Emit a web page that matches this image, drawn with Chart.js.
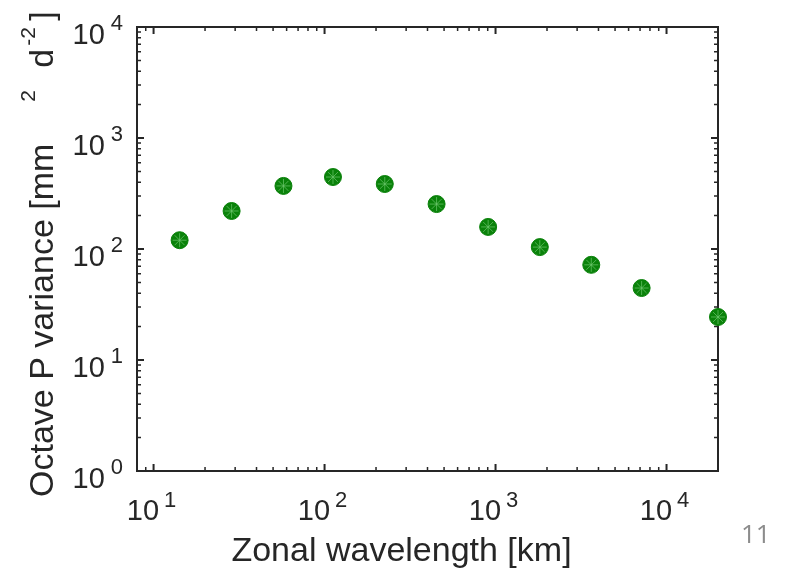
<!DOCTYPE html>
<html lang="en">
<head>
<meta charset="UTF-8">
<title>Octave P variance vs zonal wavelength</title>
<script src="https://cdn.jsdelivr.net/npm/chart.js"></script>
<style>
  html, body { margin: 0; padding: 0; background: #fff; }
  #wrap { width: 786px; height: 569px; }
</style>
</head>
<body>
<div id="wrap">
  <canvas id="chart" width="786" height="569"></canvas>
</div>
<script>
// data
const wavelengthKm = [14.2, 28.6, 57.5, 112, 225, 452, 905, 1815, 3630, 7150, 20000];
const varianceP = [120, 220, 370, 445, 385, 254, 158, 104, 72, 44.5, 24.4];

// axes
const xRange = [8, 20000];
const yRange = [1, 10000];
const xTickExps = [1, 2, 3, 4];
const yTickExps = [0, 1, 2, 3, 4];

const AXIS = '#262626';
const FONT = '"Liberation Sans", Arial, sans-serif';
const BASE = '29px ' + FONT;
const SUP = '22px ' + FONT;

// minor/major ticks of a log axis inside [lo, hi]
function logTicks(lo, hi) {
  const out = [];
  for (let e = Math.floor(Math.log10(lo)); e <= Math.ceil(Math.log10(hi)); e++) {
    for (let m = 1; m <= 9; m++) {
      const v = m * Math.pow(10, e);
      if (v >= lo * 0.999 && v <= hi * 1.001) out.push({ v, major: m === 1 });
    }
  }
  return out;
}

const matlabAxes = {
  id: 'matlabAxes',
  beforeDatasetsDraw(chart) {
    const { ctx, chartArea: a, scales: { x, y } } = chart;
    ctx.save();
    ctx.strokeStyle = AXIS;

    // ticks on all four sides, pointing in
    logTicks(xRange[0], xRange[1]).forEach(t => {
      const px = x.getPixelForValue(t.v);
      const len = t.major ? 7 : 4;
      ctx.lineWidth = t.major ? 2 : 1.5;
      ctx.beginPath();
      ctx.moveTo(px, a.bottom); ctx.lineTo(px, a.bottom - len);
      ctx.moveTo(px, a.top); ctx.lineTo(px, a.top + len);
      ctx.stroke();
    });
    logTicks(yRange[0], yRange[1]).forEach(t => {
      const py = y.getPixelForValue(t.v);
      const len = t.major ? 7 : 4;
      ctx.lineWidth = t.major ? 2 : 1.5;
      ctx.beginPath();
      ctx.moveTo(a.left, py); ctx.lineTo(a.left + len, py);
      ctx.moveTo(a.right, py); ctx.lineTo(a.right - len, py);
      ctx.stroke();
    });

    // box
    ctx.lineWidth = 2;
    ctx.strokeRect(a.left, a.top, a.right - a.left, a.bottom - a.top);

    // tick labels 10^n
    ctx.fillStyle = AXIS;
    ctx.textBaseline = 'alphabetic';
    ctx.textAlign = 'left';
    xTickExps.forEach(e => {
      const px = x.getPixelForValue(Math.pow(10, e));
      ctx.font = BASE;
      const bw = ctx.measureText('10').width;
      ctx.font = SUP;
      const ew = ctx.measureText(String(e)).width;
      const left = px - (bw + 5 + ew) / 2 - 2;
      ctx.font = BASE;
      ctx.fillText('10', left, a.bottom + 49);
      ctx.font = SUP;
      ctx.fillText(String(e), left + bw + 5, a.bottom + 36);
    });
    yTickExps.forEach(e => {
      const py = y.getPixelForValue(Math.pow(10, e));
      ctx.font = SUP;
      const ew = ctx.measureText(String(e)).width;
      ctx.font = BASE;
      const bw = ctx.measureText('10').width;
      const right = a.left - 14;
      ctx.fillText('10', right - ew - 6 - bw, py + 17);
      ctx.font = SUP;
      ctx.fillText(String(e), right - ew, py + 3);
    });

    // x title
    ctx.font = '34px ' + FONT;
    ctx.textAlign = 'center';
    ctx.fillText('Zonal wavelength [km]', 401.5, 561);

    // y title, rotated, with superscripts
    ctx.save();
    ctx.translate(53, 497);
    ctx.rotate(-Math.PI / 2);
    ctx.textAlign = 'left';
    ctx.font = '34px ' + FONT;
    const main = 'Octave P variance [mm';
    ctx.fillText(main, 0, 0);
    const w = ctx.measureText(main).width;
    ctx.font = '21px ' + FONT;
    ctx.fillText('2', w + 42, -18);
    ctx.font = '34px ' + FONT;
    ctx.fillText('d', w + 76, 0);
    ctx.font = '21px ' + FONT;
    ctx.fillText('-2', w + 98, -18);
    ctx.font = '34px ' + FONT;
    ctx.fillText(']', w + 123, 0);
    ctx.restore();

    // slide number
    ctx.font = '26px "Open Sans", sans-serif';
    ctx.fillStyle = '#8c8c8c';
    ctx.textAlign = 'left';
    ctx.fillText('11', 741, 543);

    ctx.restore();
  }
};

const points = wavelengthKm.map((v, i) => ({ x: v, y: varianceP[i] }));

new Chart(document.getElementById('chart'), {
  type: 'scatter',
  data: {
    datasets: [
      {
        data: points,
        order: 0,
        pointStyle: 'star',
        pointRadius: 7,
        backgroundColor: 'rgba(0,0,0,0)',
        borderColor: 'rgba(110,200,110,0.7)',
        borderWidth: 1,
        clip: false
      },
      {
        data: points,
        order: 1,
        pointStyle: 'circle',
        pointRadius: 8.5,
        backgroundColor: '#0a820a',
        borderColor: '#0a820a',
        borderWidth: 1,
        clip: false
      }
    ]
  },
  options: {
    responsive: false,
    animation: false,
    events: [],
    layout: { padding: { left: 137, right: 68, top: 27, bottom: 98 } },
    scales: {
      x: { type: 'logarithmic', min: xRange[0], max: xRange[1], display: false },
      y: { type: 'logarithmic', min: yRange[0], max: yRange[1], display: false }
    },
    plugins: { legend: { display: false }, tooltip: { enabled: false } }
  },
  plugins: [matlabAxes]
});
</script>
</body>
</html>
